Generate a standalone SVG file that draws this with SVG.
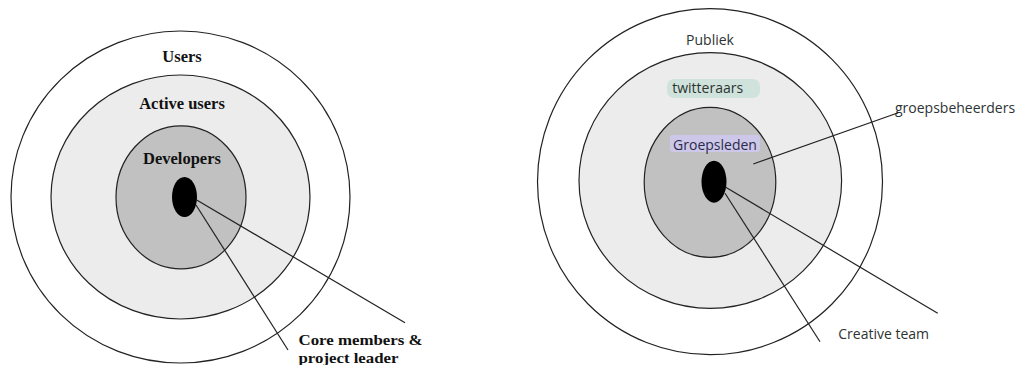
<svg xmlns="http://www.w3.org/2000/svg" width="1031" height="365" viewBox="0 0 1031 365">
<style>
.ring{stroke:#222;stroke-width:1.2}
.outer{fill:#ffffff}
.mid{fill:#ececed}
.inner{fill:#c1c1c1}
.core{fill:#000}
.conn{stroke:#222;stroke-width:1.2;fill:none}
.ser{font-family:"Liberation Serif",serif;font-weight:bold;font-size:16.5px;fill:#111}
.ser2{font-family:"Liberation Serif",serif;font-weight:bold;font-size:15.5px;fill:#111}
.sans{font-family:"Open Sans","Liberation Sans",sans-serif;font-size:14px;fill:#2d3333}
</style>
<rect width="1031" height="365" fill="#fff"/>
<g id="left-users">
<ellipse class="ring outer" cx="180.5" cy="197" rx="169.5" ry="166"/>
<text class="ser" x="182" y="61.5" text-anchor="middle">Users</text>
</g>
<g id="left-active">
<ellipse class="ring mid" cx="180.5" cy="197" rx="129.5" ry="122"/>
<text class="ser" x="182" y="109" text-anchor="middle">Active users</text>
</g>
<g id="left-developers">
<ellipse class="ring inner" cx="181" cy="197.3" rx="65" ry="71.5"/>
<text class="ser" x="182" y="164" text-anchor="middle">Developers</text>
</g>
<g id="left-core">
<ellipse class="core" cx="184.5" cy="197" rx="12.5" ry="20"/>
</g>
<g id="left-core-label">
<text class="ser2" x="298.5" y="344.5" textLength="124" lengthAdjust="spacingAndGlyphs">Core members &amp;</text>
<text class="ser2" x="298.5" y="362.5" textLength="100" lengthAdjust="spacingAndGlyphs">project leader</text>
</g>
<g id="right-publiek">
<ellipse class="ring outer" cx="710" cy="181.7" rx="172.5" ry="173"/>
<text class="sans" x="710" y="45" text-anchor="middle">Publiek</text>
</g>
<g id="right-twitteraars">
<ellipse class="ring mid" cx="710.3" cy="180.5" rx="131.3" ry="127.8"/>
<rect x="667" y="79" width="93" height="19" rx="7" fill="#cfe3dc"/>
<text class="sans" x="707.7" y="93.3" text-anchor="middle">twitteraars</text>
</g>
<g id="right-groepsleden">
<ellipse class="ring inner" cx="710" cy="182.3" rx="65.8" ry="75"/>
<rect x="670" y="135" width="90" height="17" rx="3" fill="#cdc8ea"/>
<text class="sans" x="715" y="150" text-anchor="middle" style="fill:#2b2b48">Groepsleden</text>
</g>
<g id="right-core">
<ellipse class="core" cx="714" cy="181.7" rx="12.5" ry="21"/>
</g>
<g id="right-groepsbeheerders">
<text class="sans" x="895" y="113">groepsbeheerders</text>
</g>
<g id="right-creative">
<text class="sans" x="838.3" y="339.3">Creative team</text>
</g>
<g id="connectors">
<line class="conn" x1="196.7" y1="200" x2="405" y2="322.7"/>
<line class="conn" x1="196" y1="205" x2="288" y2="350"/>
<line class="conn" x1="725.7" y1="187.3" x2="937.7" y2="313.3"/>
<line class="conn" x1="725" y1="193.3" x2="820" y2="341.7"/>
<line class="conn" x1="753.3" y1="164" x2="898.3" y2="112.7"/>
</g>
</svg>
